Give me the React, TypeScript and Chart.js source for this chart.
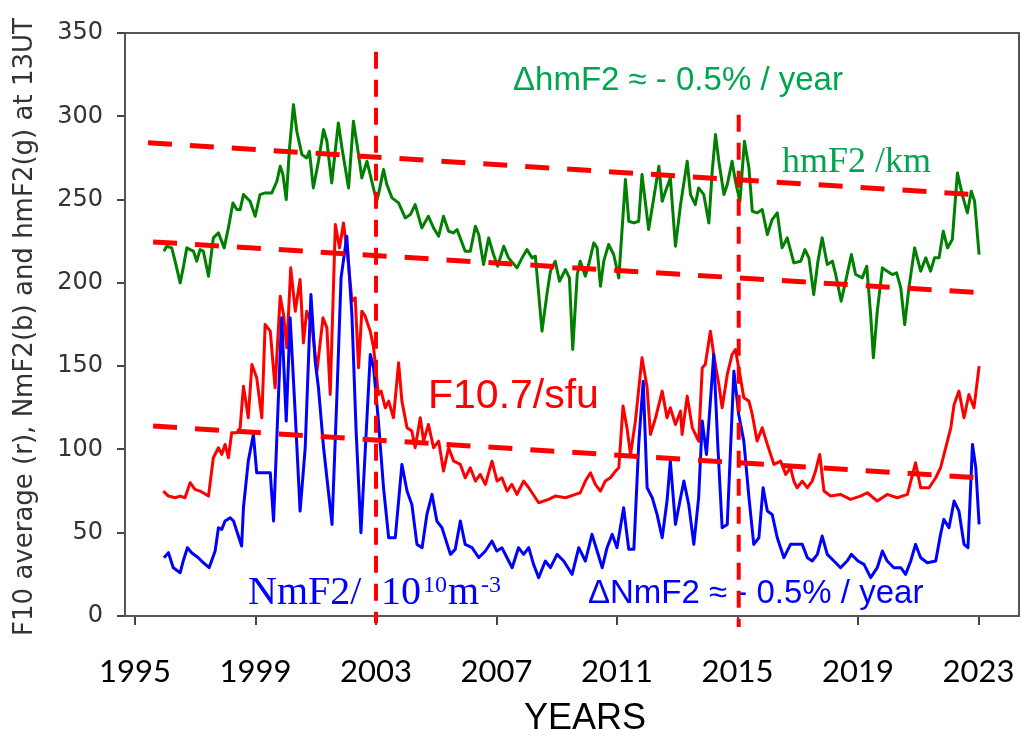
import React, { useEffect, useRef } from "react";
import { Chart, registerables } from "chart.js";

Chart.register(...registerables);

// ---- axis ticks ----
const xTickYears = [1995, 1999, 2003, 2007, 2011, 2015, 2019, 2023];
const yTickValues = [0, 50, 100, 150, 200, 250, 300, 350];

// ---- hmF2 (green) ----
const hmYears = [
  1995.96, 1996.05, 1996.22, 1996.33, 1996.5, 1996.6, 1996.72, 1996.83, 1996.94, 1997.05, 1997.16, 1997.27,
  1997.44, 1997.6, 1997.77, 1997.96, 1998.1, 1998.25, 1998.38, 1998.49, 1998.6, 1998.82, 1998.99, 1999.15,
  1999.32, 1999.54, 1999.71, 1999.82, 1999.91, 2000.02, 2000.13, 2000.26, 2000.37, 2000.54, 2000.7, 2000.79,
  2000.92, 2001.09, 2001.26, 2001.37, 2001.53, 2001.75, 2001.87, 2002.09, 2002.25, 2002.42, 2002.53, 2002.7,
  2003.02, 2003.08, 2003.25, 2003.36, 2003.53, 2003.75, 2003.97, 2004.14, 2004.3, 2004.52, 2004.74, 2004.91,
  2005.08, 2005.24, 2005.41, 2005.57, 2005.69, 2005.96, 2006.13, 2006.3, 2006.41, 2006.57, 2006.74, 2006.9,
  2007.04, 2007.24, 2007.4, 2007.68, 2007.85, 2008.01, 2008.18, 2008.29, 2008.51, 2008.68, 2008.79, 2008.95,
  2009.09, 2009.29, 2009.42, 2009.53, 2009.68, 2009.78, 2009.95, 2010.06, 2010.23, 2010.34, 2010.45, 2010.56,
  2010.72, 2010.89, 2011.06, 2011.28, 2011.39, 2011.56, 2011.72, 2011.83, 2012.05, 2012.22, 2012.39, 2012.5,
  2012.61, 2012.77, 2012.94, 2013.11, 2013.33, 2013.44, 2013.6, 2013.71, 2013.88, 2014.05, 2014.16, 2014.27,
  2014.38, 2014.55, 2014.66, 2014.82, 2014.93, 2015.08, 2015.23, 2015.38, 2015.49, 2015.65, 2015.82, 2015.99,
  2016.15, 2016.32, 2016.48, 2016.65, 2016.87, 2017.1, 2017.24, 2017.37, 2017.53, 2017.67, 2017.81, 2017.98,
  2018.15, 2018.26, 2018.44, 2018.59, 2018.78, 2018.92, 2019.14, 2019.29, 2019.42, 2019.51, 2019.64, 2019.81,
  2019.97, 2020.14, 2020.28, 2020.42, 2020.55, 2020.69, 2020.88, 2021.08, 2021.25, 2021.41, 2021.54, 2021.69,
  2021.83, 2021.97, 2022.13, 2022.3, 2022.46, 2022.63, 2022.76, 2022.87, 2023.02,
];
const hmValues = [
  219, 222, 221, 213, 200, 209, 221, 220, 219, 213, 220, 219,
  204, 227, 230, 221, 233, 248, 244, 244, 253, 249, 240, 253,
  254, 254, 261, 270, 265, 250, 281, 307, 291, 277, 275, 279,
  257, 273, 292, 285, 260, 296, 281, 257, 297, 277, 263, 273,
  249, 253, 268, 259, 251, 248, 239, 241, 247, 233, 240, 233,
  228, 240, 231, 230, 232, 219, 219, 234, 229, 211, 227, 217,
  210, 222, 215, 209, 215, 220, 215, 216, 171, 194, 207, 213,
  201, 208, 203, 160, 205, 213, 204, 211, 224, 221, 198, 213,
  223, 217, 203, 262, 237, 236, 237, 265, 232, 251, 270, 249,
  255, 263, 222, 247, 273, 253, 247, 257, 253, 236, 267, 289,
  273, 253, 259, 273, 261, 249, 285, 269, 243, 242, 244, 229,
  238, 242, 221, 227, 212, 213, 220, 215, 193, 213, 227, 211,
  213, 205, 189, 201, 217, 205, 203, 210, 181, 155, 183, 209,
  207, 205, 206, 197, 175, 197, 221, 207, 215, 207, 215, 215,
  231, 221, 226, 266, 253, 242, 255, 249, 217,
];

// ---- F10.7 (red) ----
const f10Years = [
  1995.94, 1996.11, 1996.33, 1996.5, 1996.66, 1996.83, 1996.99, 1997.16, 1997.44, 1997.6, 1997.77, 1997.88,
  1997.99, 1998.1, 1998.21, 1998.38, 1998.49, 1998.6, 1998.76, 1998.88, 1999.04, 1999.21, 1999.32, 1999.49,
  1999.65, 1999.82, 1999.93, 2000.04, 2000.17, 2000.32, 2000.48, 2000.59, 2000.7, 2000.87, 2001.04, 2001.24,
  2001.37, 2001.48, 2001.65, 2001.79, 2001.92, 2002.09, 2002.2, 2002.31, 2002.42, 2002.53, 2002.64, 2002.81,
  2002.92, 2003.08, 2003.17, 2003.31, 2003.42, 2003.58, 2003.75, 2003.86, 2004.03, 2004.19, 2004.3, 2004.47,
  2004.58, 2004.74, 2004.91, 2005.08, 2005.24, 2005.41, 2005.58, 2005.8, 2005.96, 2006.13, 2006.3, 2006.46,
  2006.63, 2006.85, 2007.02, 2007.18, 2007.35, 2007.51, 2007.68, 2007.9, 2008.07, 2008.4, 2008.73, 2008.95,
  2009.29, 2009.62, 2009.78, 2009.95, 2010.12, 2010.28, 2010.45, 2010.61, 2010.78, 2010.95, 2011.06, 2011.2,
  2011.33, 2011.45, 2011.61, 2011.83, 2012.0, 2012.11, 2012.28, 2012.5, 2012.66, 2012.77, 2012.94, 2013.11,
  2013.16, 2013.33, 2013.5, 2013.71, 2013.83, 2013.93, 2014.1, 2014.21, 2014.38, 2014.49, 2014.66, 2014.82,
  2014.93, 2015.04, 2015.21, 2015.38, 2015.49, 2015.65, 2015.82, 2015.99, 2016.21, 2016.43, 2016.6, 2016.76,
  2016.87, 2016.98, 2017.15, 2017.32, 2017.48, 2017.59, 2017.73, 2017.87, 2018.09, 2018.42, 2018.75, 2019.08,
  2019.31, 2019.64, 2019.97, 2020.3, 2020.64, 2020.91, 2021.08, 2021.36, 2021.58, 2021.74, 2021.91, 2022.08,
  2022.19, 2022.35, 2022.52, 2022.68, 2022.85, 2023.02,
];
const f10Values = [
  75, 72, 71, 72, 71, 80, 76, 75, 72, 95, 101, 97,
  103, 95, 110, 110, 113, 138, 119, 151, 143, 119, 175, 171,
  137, 192, 181, 161, 209, 183, 202, 164, 183, 175, 147, 179,
  173, 133, 235, 221, 236, 211, 189, 191, 149, 183, 180, 171,
  161, 133, 135, 125, 129, 119, 152, 129, 113, 111, 101, 119,
  105, 115, 101, 105, 87, 101, 93, 91, 83, 89, 81, 85,
  79, 93, 81, 83, 75, 79, 73, 81, 77, 68, 70, 72,
  71, 73, 74, 81, 86, 79, 75, 81, 83, 87, 89, 126,
  113, 97, 117, 155, 137, 109, 119, 135, 119, 125, 115, 123,
  109, 132, 113, 105, 149, 151, 171, 157, 139, 125, 145, 157,
  160, 149, 131, 129, 121, 105, 113, 103, 91, 93, 85, 89,
  81, 77, 81, 77, 81, 87, 97, 75, 72, 73, 70, 72,
  74, 69, 73, 71, 73, 92, 77, 77, 83, 89, 101, 113,
  127, 135, 119, 133, 125, 150,
];

// ---- NmF2 (blue) ----
const nmYears = [
  1995.96, 1996.11, 1996.27, 1996.5, 1996.6, 1996.74, 1996.88, 1997.1, 1997.21, 1997.46, 1997.66, 1997.77,
  1997.88, 1997.99, 1998.16, 1998.27, 1998.54, 1998.6, 1998.76, 1998.93, 1999.04, 1999.49, 1999.6, 1999.76,
  1999.87, 2000.02, 2000.15, 2000.32, 2000.48, 2000.65, 2000.84, 2000.98, 2001.09, 2001.26, 2001.54, 2001.7,
  2001.84, 2002.03, 2002.2, 2002.34, 2002.5, 2002.81, 2002.92, 2003.08, 2003.25, 2003.42, 2003.64, 2003.86,
  2004.03, 2004.19, 2004.36, 2004.53, 2004.69, 2004.86, 2005.02, 2005.19, 2005.47, 2005.63, 2005.8, 2005.96,
  2006.19, 2006.41, 2006.63, 2006.85, 2007.01, 2007.18, 2007.35, 2007.52, 2007.73, 2007.9, 2008.07, 2008.23,
  2008.4, 2008.62, 2008.79, 2009.01, 2009.23, 2009.51, 2009.73, 2009.95, 2010.17, 2010.34, 2010.51, 2010.67,
  2010.84, 2011.0, 2011.22, 2011.39, 2011.56, 2011.72, 2011.87, 2012.0, 2012.17, 2012.33, 2012.5, 2012.66,
  2012.77, 2012.94, 2013.11, 2013.22, 2013.38, 2013.55, 2013.71, 2013.83, 2013.97, 2014.1, 2014.21, 2014.35,
  2014.49, 2014.66, 2014.77, 2014.88, 2015.04, 2015.21, 2015.38, 2015.54, 2015.71, 2015.85, 2015.99, 2016.15,
  2016.32, 2016.54, 2016.76, 2016.87, 2017.15, 2017.32, 2017.48, 2017.65, 2017.81, 2017.98, 2018.2, 2018.42,
  2018.64, 2018.78, 2019.0, 2019.2, 2019.42, 2019.64, 2019.81, 2019.97, 2020.19, 2020.42, 2020.58, 2020.75,
  2020.91, 2021.08, 2021.3, 2021.58, 2021.74, 2021.85, 2022.02, 2022.19, 2022.35, 2022.52, 2022.65, 2022.8,
  2022.91, 2023.02,
];
const nmValues = [
  35, 38, 29, 26, 33, 41, 38, 35, 33, 29, 39, 53,
  52, 57, 59, 57, 42, 65, 93, 109, 86, 86, 57, 131,
  179, 117, 179, 121, 63, 101, 193, 153, 137, 101, 55, 131,
  203, 228, 181, 111, 50, 157, 149, 117, 77, 47, 47, 91,
  75, 67, 43, 41, 61, 73, 57, 53, 37, 40, 57, 43,
  41, 35, 39, 45, 39, 41, 35, 29, 41, 37, 41, 31,
  23, 33, 29, 37, 33, 25, 41, 33, 49, 39, 29, 41,
  49, 41, 65, 40, 40, 103, 141, 77, 71, 61, 47, 69,
  93, 55, 71, 81, 67, 43, 71, 117, 97, 129, 157, 101,
  53, 55, 101, 147, 121, 105, 71, 43, 47, 77, 63, 61,
  47, 35, 43, 43, 43, 35, 33, 37, 48, 37, 33, 29,
  33, 37, 33, 31, 23, 29, 39, 33, 29, 29, 25, 33,
  43, 35, 32, 33, 49, 58, 53, 69, 63, 43, 41, 103,
  89, 55,
];

// ---- red dashed guide lines ----
const trendTopYears = [1995.43, 2023.07];
const trendTopValues = [284.1, 252.8];
const trendMidYears = [1995.6, 2023.2];
const trendMidValues = [224.6, 193.9];
const trendLowYears = [1995.6, 2023.2];
const trendLowValues = [114.0, 82.8];
const mark2003Years = [2003.0, 2003.0];
const mark2003Values = [338.8, -4.4];
const mark2015Years = [2015.04, 2015.04];
const mark2015Values = [300.9, -6.6];

const pts = (xs: number[], ys: number[]) => xs.map((x, i) => ({ x, y: ys[i] }));

const GREEN_TEXT = "#00a550";

const annotationPlugin = {
  id: "annotations",
  beforeDatasetsDraw(chart: any) {
    const { ctx, chartArea: ca } = chart;
    ctx.save();
    // frame
    ctx.strokeStyle = "#555";
    ctx.lineWidth = 2;
    ctx.strokeRect(ca.left, ca.top, ca.right - ca.left, ca.bottom - ca.top);

    ctx.textBaseline = "alphabetic";
    ctx.textAlign = "left";

    ctx.fillStyle = GREEN_TEXT;
    ctx.font = '33px "Liberation Sans"';
    ctx.fillText("ΔhmF2 ≈ - 0.5% / year", 513, 90);
    ctx.font = '36px "Liberation Serif"';
    ctx.fillText("hmF2 /km", 782, 172);

    ctx.fillStyle = "#ff0000";
    ctx.font = '41px "Liberation Sans"';
    ctx.fillText("F10.7/sfu", 428, 408);

    ctx.fillStyle = "#0000ff";
    ctx.font = '33px "Liberation Sans"';
    ctx.fillText("ΔNmF2 ≈ - 0.5% / year", 588, 603);

    // NmF2/ 10^10 m^-3
    const big = '40px "Liberation Serif"';
    const small = '24px "Liberation Serif"';
    ctx.font = big;
    ctx.fillText("NmF2/", 248, 604);
    let x = 381;
    ctx.fillText("10", x, 604);
    x += ctx.measureText("10").width + 2;
    ctx.font = small;
    ctx.fillText("10", x, 592);
    x += ctx.measureText("10").width + 1;
    ctx.font = big;
    ctx.fillText("m", x, 604);
    x += ctx.measureText("m").width + 2;
    ctx.font = small;
    ctx.fillText("-3", x, 592);

    // axis titles
    ctx.fillStyle = "#000";
    ctx.font = '36px "Liberation Sans"';
    ctx.textAlign = "center";
    ctx.fillText("YEARS", 585, 729);

    ctx.save();
    ctx.translate(25, 327);
    ctx.rotate(-Math.PI / 2);
    ctx.fillStyle = "#333";
    ctx.font = '26px "DejaVu Sans"';
    ctx.textBaseline = "middle";
    ctx.fillText("F10 average (r), NmF2(b) and hmF2(g) at 13UT", 0, 0);
    ctx.restore();

    ctx.restore();
  },
};

export default function App() {
  const ref = useRef<HTMLCanvasElement | null>(null);

  useEffect(() => {
    if (!ref.current) return;
    const dashed = (xs: number[], ys: number[], w: number, dash: number[]) => ({
      data: pts(xs, ys),
      borderColor: "#ff0000",
      borderWidth: w,
      borderDash: dash,
      borderCapStyle: "butt",
      pointRadius: 0,
      fill: false,
      clip: false,
    });
    const series = (xs: number[], ys: number[], color: string) => ({
      data: pts(xs, ys),
      borderColor: color,
      borderWidth: 3,
      pointRadius: 0,
      fill: false,
      tension: 0,
      borderJoinStyle: "round",
    });
    const zeroPad = (s: any) => {
      s.paddingLeft = 0;
      s.paddingRight = 0;
      s.paddingTop = 0;
      s.paddingBottom = 0;
    };
    const chart = new Chart(ref.current, {
      type: "line",
      data: {
        datasets: [
          dashed(mark2003Years, mark2003Values, 4, [17, 11]),
          dashed(mark2015Years, mark2015Values, 4, [17, 11]),
          dashed(trendTopYears, trendTopValues, 5, [24, 18]),
          dashed(trendMidYears, trendMidValues, 5, [24, 18]),
          dashed(trendLowYears, trendLowValues, 5, [24, 18]),
          series(nmYears, nmValues, "#0000ff"),
          series(f10Years, f10Values, "#ff0000"),
          series(hmYears, hmValues, "#008000"),
        ] as any,
      },
      options: {
        animation: false,
        responsive: false,
        maintainAspectRatio: false,
        layout: { padding: { top: 33, right: 3, left: 0, bottom: 0 } },
        plugins: { legend: { display: false }, tooltip: { enabled: false } },
        scales: {
          x: {
            type: "linear",
            min: 1994.668,
            max: 2024.344,
            afterBuildTicks: (s: any) => {
              s.ticks = xTickYears.map((v) => ({ value: v }));
            },
            afterFit: (s: any) => {
              s.height = 114;
              zeroPad(s);
            },
            grid: { drawOnChartArea: false, drawTicks: true, tickLength: 9, color: "#444", lineWidth: 2 },
            border: { display: false },
            ticks: {
              font: { family: "Lato", size: 31 },
              color: "#000",
              padding: 28,
              maxRotation: 0,
              autoSkip: false,
              callback: (v: any) => String(v),
            },
          },
          y: {
            type: "linear",
            min: 0,
            max: 350,
            afterBuildTicks: (s: any) => {
              s.ticks = yTickValues.map((v) => ({ value: v }));
            },
            afterFit: (s: any) => {
              s.width = 125;
              zeroPad(s);
            },
            grid: { drawOnChartArea: false, drawTicks: true, tickLength: 8, color: "#444", lineWidth: 2 },
            border: { display: false },
            ticks: {
              font: { family: "DejaVu Sans", size: 24 },
              color: "#333",
              padding: 14,
              autoSkip: false,
              callback: (v: any) => String(v),
            },
          },
        },
      } as any,
      plugins: [annotationPlugin],
    });
    return () => chart.destroy();
  }, []);

  return (
    <div style={{ position: "absolute", left: 0, top: 0, width: 1022, height: 730, background: "#fff" }}>
      <canvas ref={ref} width={1022} height={730} style={{ display: "block" }} />
    </div>
  );
}
